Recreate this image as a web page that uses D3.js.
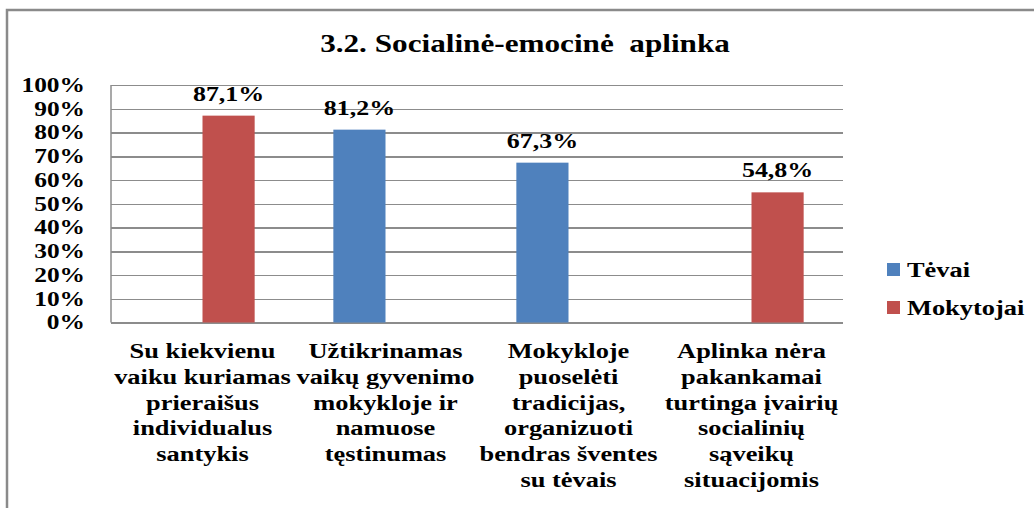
<!DOCTYPE html>
<html lang="lt">
<head>
	<meta charset="utf-8">
	<title>3.2. Socialinė-emocinė aplinka</title>
	<script src="https://cdn.jsdelivr.net/npm/d3@7/dist/d3.min.js" charset="utf-8"></script>
	<style type="text/css">
		body { margin: 0; background: #fff; }
		.grid line { stroke: #8c8c8c; stroke-width: 1.5; shape-rendering: crispEdges; }
		.grid path { display: none; }
	</style>
</head>
<body>
<script type="text/javascript">

// Data
var categories = ["c1", "c2", "c3", "c4"];
var categoryLines = [
    ["Su kiekvienu", "vaiku kuriamas", "prieraišus", "individualus", "santykis"],
    ["Užtikrinamas", "vaikų gyvenimo", "mokykloje ir", "namuose", "tęstinumas"],
    ["Mokykloje", "puoselėti", "tradicijas,", "organizuoti", "bendras šventes", "su tėvais"],
    ["Aplinka nėra", "pakankamai", "turtinga įvairių", "socialinių", "sąveikų", "situacijomis"]
];
var seriesNames = ["Tėvai", "Mokytojai"];
var seriesColors = ["#4f81bd", "#c0504d"];
// null = no bar for that series
var tevai = [null, 81.2, 67.3, null];
var mokytojai = [87.1, null, null, 54.8];
var yTicks = [0, 10, 20, 30, 40, 50, 60, 70, 80, 90, 100];

var width = 1034, height = 508;
var plot = {left: 111, right: 843, top: 85, bottom: 322.5};
var serif = "'Liberation Serif', 'Times New Roman', 'DejaVu Serif', serif";

var svg = d3.select("body").append("svg")
    .attr("width", width)
    .attr("height", height);

// outer frame (right and bottom edges fall outside the picture)
svg.append("rect")
    .attr("x", 7).attr("y", 10)
    .attr("width", 1060).attr("height", 540)
    .attr("fill", "none")
    .attr("stroke", "#8a8a8a")
    .attr("stroke-width", 2.5);

var x0 = d3.scaleBand()
    .domain(categories)
    .range([plot.left, plot.right])
    .paddingInner(0.43)
    .paddingOuter(0.215);

var x1 = d3.scaleBand()
    .domain(seriesNames)
    .range([0, x0.bandwidth()]);

var yScale = d3.scaleLinear()
    .domain([0, 100])
    .range([plot.bottom, plot.top]);

// gridlines + y labels
var yAxis = d3.axisLeft(yScale)
    .tickValues(yTicks)
    .tickSize(-(plot.right - plot.left))
    .tickPadding(20.5)
    .tickFormat(function(d) { return d + "%"; });

var gy = svg.append("g")
    .attr("class", "grid")
    .attr("transform", "translate(" + plot.left + ",0)")
    .call(yAxis);

gy.attr("font-family", null).attr("font-size", null);
gy.selectAll("text")
    .style("font-family", serif)
    .style("font-weight", "bold")
    .style("font-size", "20px")
    .attr("fill", "#000")
    .attr("transform", "scale(1.27,1)");

// left edge of plot area
svg.append("line")
    .attr("x1", plot.left).attr("x2", plot.left)
    .attr("y1", plot.top).attr("y2", plot.bottom)
    .attr("stroke", "#8c8c8c")
    .attr("stroke-width", 1.5);

// build bar rows
var rows = [];
categories.forEach(function(c, i) {
    [tevai[i], mokytojai[i]].forEach(function(v, s) {
        if (v !== null) rows.push({cat: c, series: seriesNames[s], color: seriesColors[s], value: v});
    });
});

svg.selectAll("rect.bar")
    .data(rows)
    .enter()
    .append("rect")
    .attr("class", "bar")
    .attr("x", function(d) { return x0(d.cat) + x1(d.series); })
    .attr("y", function(d) { return yScale(d.value); })
    .attr("width", x1.bandwidth())
    .attr("height", function(d) { return plot.bottom - yScale(d.value); })
    .attr("fill", function(d) { return d.color; });

// value labels
svg.selectAll("text.val")
    .data(rows)
    .enter()
    .append("text")
    .attr("class", "val")
    .attr("text-anchor", "middle")
    .style("font-family", serif)
    .style("font-weight", "bold")
    .style("font-size", "22px")
    .attr("transform", function(d) {
        var cx = x0(d.cat) + x1(d.series) + x1.bandwidth() / 2;
        return "translate(" + cx + "," + (yScale(d.value) - 15) + ") scale(1.18,1)";
    })
    .text(function(d) { return d3.format(".1f")(d.value).replace(".", ",") + "%"; });

// category labels
categories.forEach(function(c, i) {
    var cx = x0(c) + x0.bandwidth() / 2;
    svg.selectAll(null)
        .data(categoryLines[i])
        .enter()
        .append("text")
        .attr("text-anchor", "middle")
        .style("font-family", serif)
        .style("font-weight", "bold")
        .style("font-size", "22px")
        .attr("transform", function(d, j) {
            return "translate(" + cx + "," + (358 + j * 25.8) + ") scale(1.2,1)";
        })
        .text(function(d) { return d; });
});

// title
svg.append("text")
    .attr("text-anchor", "middle")
    .style("font-family", serif)
    .style("font-weight", "bold")
    .style("font-size", "26px")
    .attr("transform", "translate(525,52) scale(1.2,1)")
    .text("3.2. Socialinė-emocinė\u00a0 aplinka");

// legend
var legend = svg.selectAll("g.legend")
    .data(seriesNames)
    .enter()
    .append("g")
    .attr("class", "legend")
    .attr("transform", function(d, i) { return "translate(887," + (263 + i * 38) + ")"; });

legend.append("rect")
    .attr("width", 13).attr("height", 13)
    .attr("fill", function(d, i) { return seriesColors[i]; });

legend.append("text")
    .style("font-family", serif)
    .style("font-weight", "bold")
    .style("font-size", "22px")
    .attr("transform", "translate(20,14) scale(1.2,1)")
    .text(function(d) { return d; });

</script>
</body>
</html>
